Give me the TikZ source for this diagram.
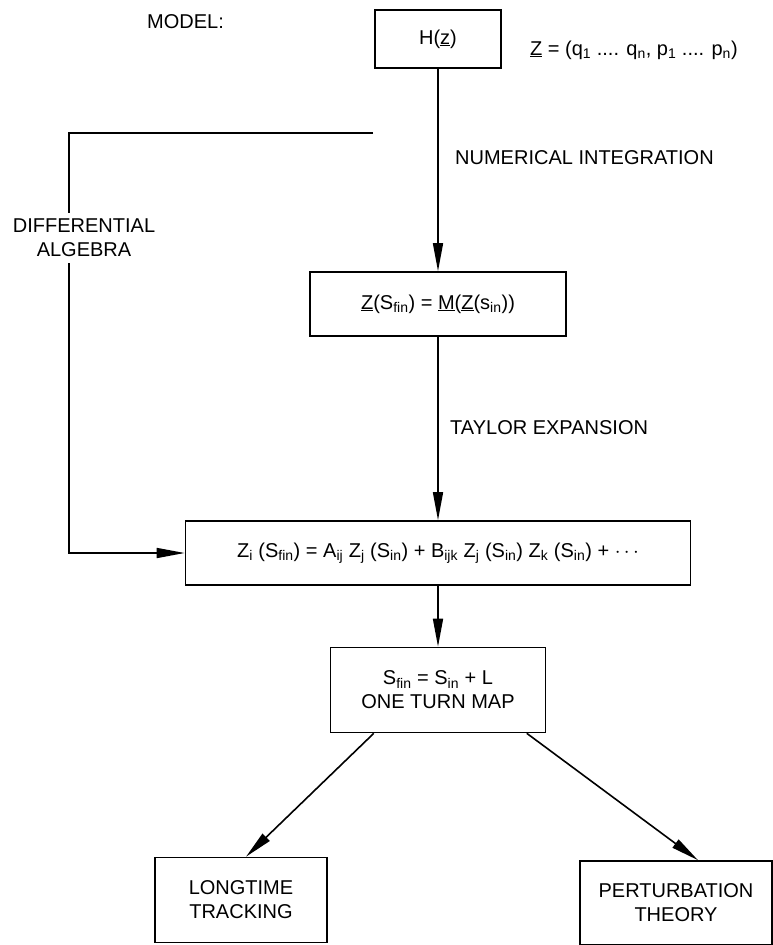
\documentclass[tikz,border=0pt]{standalone}
\usepackage{fontspec}
\setmainfont{Liberation Sans}
\usetikzlibrary{arrows.meta,positioning}
\tikzset{mapbox/.style={
    % The shape:
    rectangle,
    % The border:
    line width=1.6pt,
    draw=black,
    % Font
    font=\fontsize{20}{24}\selectfont,
    align=center,
    inner sep=0pt
    },
    steplabel/.style={
    font=\fontsize{20}{24}\selectfont,
    inner sep=0pt,
    anchor=west
    },
    flow/.style={
    line width=1.6pt,
    -{Triangle[length=28pt,width=10pt]}
    },
}

\begin{document}
\begin{tikzpicture}[x=1pt,y=-1pt]
    \useasboundingbox (0,0) rectangle (773,945);

    \node (model)   [steplabel]                                         at (147,22)  {MODEL:};
    \node (ham)     [mapbox,minimum width=126pt,minimum height=58pt]    at (438,39)  {H(\underline{z})};
    \node (coords)  [steplabel]                                         at (530,50)  {\underline{Z} = (q\textsubscript{1} .... q\textsubscript{n}, p\textsubscript{1} .... p\textsubscript{n})};

    \node (zmap)    [mapbox,minimum width=256pt,minimum height=64pt]    at (438,304) {\underline{Z}(S\textsubscript{fin}) = \underline{M}(\underline{Z}(s\textsubscript{in}))};
    \node (series)  [mapbox,minimum width=505pt,minimum height=64pt]    at (438,553) {Z\textsubscript{i} (S\textsubscript{fin}) = A\textsubscript{ij} Z\textsubscript{j} (S\textsubscript{in}) + B\textsubscript{ijk} Z\textsubscript{j} (S\textsubscript{in}) Z\textsubscript{k} (S\textsubscript{in}) + $\cdots$};
    \node (oneturn) [mapbox,minimum width=215pt,minimum height=85pt]    at (438,690) {S\textsubscript{fin} = S\textsubscript{in} + L\\ONE TURN MAP};

    \node (longtime) [mapbox,minimum width=172pt,minimum height=85pt]   at (241,900) {LONGTIME\\TRACKING};
    \node (perturb)  [mapbox,minimum width=192pt,minimum height=84pt]   at (676,903) {PERTURBATION\\THEORY};

    \node (numint)  [steplabel] at (455,158) {NUMERICAL INTEGRATION};
    \node (taylor)  [steplabel] at (450,428) {TAYLOR EXPANSION};
    \node (diffalg) [steplabel,anchor=center,align=center,inner ysep=6pt] at (84,238) {DIFFERENTIAL\\ALGEBRA};

    \coordinate (dastart)  at (373,133);
    \coordinate (dacorner) at (69,133);

    \draw[flow] (ham) -- (zmap);
    \draw[flow] (zmap) -- (series);
    \draw[flow] (series) -- (oneturn);
    \draw[line width=1.6pt] (dastart) -- (dacorner) -- (dacorner |- diffalg.north);
    \draw[flow] (dacorner |- diffalg.south) |- (series.west);
    \draw[flow] (oneturn.214) -- ([xshift=5pt]longtime.north);
    \draw[flow] (oneturn.334) -- ([xshift=22pt]perturb.north);
\end{tikzpicture}
\end{document}
